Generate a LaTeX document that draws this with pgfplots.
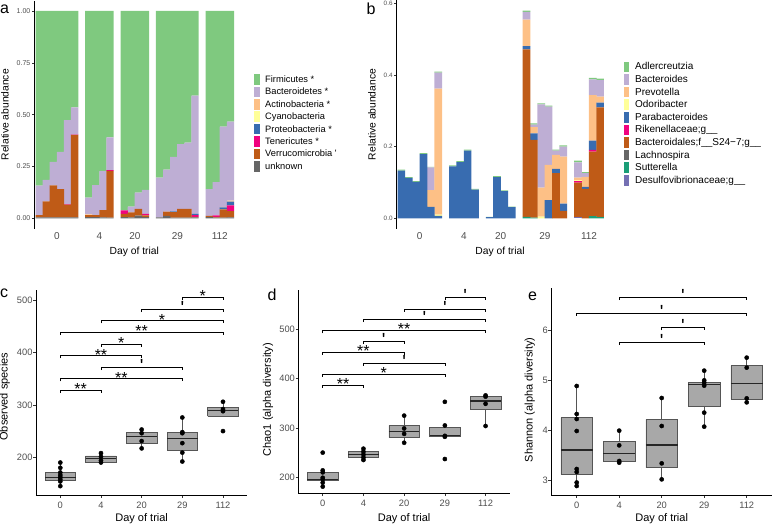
\documentclass[border=0pt]{standalone}
\usepackage{fontspec}
\setmainfont{Liberation Sans}
\usepackage{pgfplots}
\usepackage{pgfplotstable}
\pgfplotsset{compat=1.18}

\definecolor{cFir}{HTML}{7FC97F}
\definecolor{cBac}{HTML}{BEAED4}
\definecolor{cAct}{HTML}{FDC086}
\definecolor{cCya}{HTML}{FFFF99}
\definecolor{cPro}{HTML}{386CB0}
\definecolor{cTen}{HTML}{F0027F}
\definecolor{cVer}{HTML}{BF5B17}
\definecolor{cUnk}{HTML}{666666}
\definecolor{cSut}{HTML}{1B9E77}
\definecolor{cDes}{HTML}{7570B3}
\definecolor{txtgray}{HTML}{4D4D4D}
\definecolor{boxfill}{HTML}{A8A8A8}
\definecolor{boxline}{HTML}{555555}

\newcommand\fs[1]{\fontsize{#1}{#1}\selectfont}
\newcommand\brk[4]{\addplot[black, line width=0.5pt, mark=none] coordinates {(#1,#4) (#1,#3) (#2,#3) (#2,#4)};}
% asterisk labels and the "'" (p<0.1) labels
\newcommand\blab[3]{\node[font=\fs{16}, anchor=base, inner sep=0pt, yshift=-4.3pt] at (axis cs:#1,#2) {#3};}
\newcommand\qlab[2]{\node[font=\fs{19}, anchor=base, inner sep=0pt, yshift=-5.2pt] at (axis cs:#1,#2) {\textquotesingle};}
\newcommand\q{\textquotesingle}
% box: pos, left, right, lower whisker, lower quartile, median, upper quartile, upper whisker
\newcommand\bx[8]{%
\addplot[boxline, line width=0.5pt, mark=none] coordinates {(#1,#4) (#1,#5)};
\addplot[boxline, line width=0.5pt, mark=none] coordinates {(#1,#7) (#1,#8)};
\addplot[fill=boxfill, draw=boxline, line width=0.5pt, mark=none] coordinates {(#2,#5) (#3,#5) (#3,#7) (#2,#7) (#2,#5)};
\addplot[black!85, line width=1.1pt, mark=none] coordinates {(#2,#6) (#3,#6)};}

\pgfplotsset{
  base/.style={scale only axis, anchor=south west, axis lines*=left,
    axis line style={-, line width=0.5pt, draw=black},
    tick align=outside, tick style={line width=0.5pt, draw=black!80},
    /pgf/number format/assume math mode=true, clip=false,
    tick label style={text=txtgray, inner sep=0pt}},
  lk/.style={legend image code/.code={\fill[##1] (0pt,-2.3pt) rectangle (5.3pt,8.4pt);}},
  pts/.style={only marks, mark=*, mark size=2.1pt, black},
}

% panel a: phylum relative abundance (increments, stacked from bottom)
\pgfplotstableread{
x unk ver ten pro cya act bac fir
1 .005 .011 0 0 0 0 .142 .842
2 .005 .077 0 0 0 0 .103 .815
3 .005 .154 0 0 0 0 .113 .728
4 .005 .136 0 0 0 0 .179 .680
5 .005 .061 .003 0 0 0 .404 .527
6 .005 .397 .002 0 0 0 .131 .465
8 .006 .010 0 0 0 .003 .081 .900
9 .006 .010 0 0 0 0 .144 .840
10 .005 .034 0 0 0 0 .189 .772
11 .004 .225 .004 0 0 0 .157 .610
13 .006 .016 .016 0 0 0 0 .962
14 .005 .024 0 0 0 0 .027 .944
15 .013 .032 0 0 0 0 .079 .876
16 .006 .008 .008 0 0 0 .115 .863
18 .005 0 0 0 0 0 .191 .804
19 .012 .020 0 0 0 0 .203 .765
20 .004 .026 0 .003 0 0 .263 .704
21 .004 .041 0 0 0 0 .313 .642
22 .004 .042 0 0 0 0 .319 .635
23 .005 .002 .008 .006 0 0 .571 .408
25 .006 .006 0 0 0 0 .129 .859
26 .004 .003 .007 0 0 0 .160 .826
27 .004 .039 0 .010 0 .002 .387 .558
28 .005 .030 .028 .017 0 .005 .381 .534
}\tabA

% panel b: genus relative abundance (increments)
\pgfplotstableread{
x des sut lac s24 rik para odo prev bacs adl
1 0 0 0 0 0 .133 0 0 0 .003
2 0 0 0 0 0 .113 0 0 0 .002
3 0 0 0 0 0 .102 0 0 0 .002
4 0 0 0 0 0 .179 0 0 0 .003
5 0 0 0 0 0 .032 0 .047 .063 .002
6 0 0 0 0 0 .007 .003 .352 .045 .003
8 0 0 0 0 0 .145 0 0 0 .003
9 0 0 0 0 0 .157 0 0 0 .003
10 0 0 0 0 0 .189 0 0 0 .003
11 0 0 0 0 0 .080 0 0 0 .002
13 0 0 0 0 0 .003 0 0 0 .001
14 0 0 0 0 0 .115 0 0 0 .003
15 0 0 0 0 0 .076 0 0 0 .002
16 0 0 0 0 0 .031 0 0 0 .002
18 0 .004 0 .468 0 .009 0 .074 .022 .003
19 0 .002 0 .217 0 .018 0 .018 .007 .003
20 0 0 0 0 0 0 .005 .081 .232 .003
21 0 0 0 0 0 .051 0 .098 .163 .003
22 0 0 0 .126 0 .012 0 .039 .012 .003
23 0 0 0 .021 0 .020 0 .131 .028 .004
25 .004 0 0 .096 .004 0 .003 .007 .042 .005
26 0 0 0 .082 0 .006 0 .028 .010 .003
27 0 .006 0 .180 .005 .026 0 .127 .044 .004
28 0 .003 0 .307 0 .013 0 .017 .046 .004
}\tabB

\begin{document}
\begin{tikzpicture}[x=1pt,y=1pt]
\path[use as bounding box] (0,0) rectangle (773,-529);

% ---------------- panel a ----------------
\begin{axis}[base, at={(34pt,-228.7pt)}, width=200.7pt, height=228.1pt,
  xmin=0.26, xmax=28.6, ymin=-0.05, ymax=1.05,
  ybar stacked, bar width=1.04,
  x axis line style={draw=none}, xtick style={draw=none},
  xtick={3.5,9.5,14.5,20.5,26.5}, xticklabels={0,4,20,29,112},
  xticklabel style={font=\fs{10}, yshift=-1.5pt},
  ytick={0,0.25,0.5,0.75,1}, major tick length=2pt,
  yticklabel style={font=\fs{7}, xshift=-1.5pt, /pgf/number format/fixed, /pgf/number format/fixed zerofill, /pgf/number format/precision=2},
  xlabel={Day of trial}, xlabel style={at={(axis description cs:0.4996,-0.0802)}, anchor=north, inner sep=0pt, font=\fs{10.3}},
  ylabel={Relative abundance}, ylabel style={at={(axis description cs:-0.1246,0.5)}, rotate=0, anchor=south, inner sep=0pt, font=\fs{10.3}},
  reverse legend, legend cell align=left,
  legend style={at={(axis description cs:1.0962,0.6797)}, anchor=north west, draw=none, fill=none, inner sep=0pt, row sep=0pt, column sep=5.7pt, font=\fs{9.3}, nodes={inner sep=0pt, text height=8.7pt, text depth=3.7pt, anchor=base west}},
]
\addplot[fill=cUnk, draw=none, lk] table[x=x,y=unk] {\tabA}; \addlegendentry{unknown}
\addplot[fill=cVer, draw=none, lk] table[x=x,y=ver] {\tabA}; \addlegendentry{Verrucomicrobia \q}
\addplot[fill=cTen, draw=none, lk] table[x=x,y=ten] {\tabA}; \addlegendentry{Tenericutes *}
\addplot[fill=cPro, draw=none, lk] table[x=x,y=pro] {\tabA}; \addlegendentry{Proteobacteria *}
\addplot[fill=cCya, draw=none, lk] table[x=x,y=cya] {\tabA}; \addlegendentry{Cyanobacteria}
\addplot[fill=cAct, draw=none, lk] table[x=x,y=act] {\tabA}; \addlegendentry{Actinobacteria *}
\addplot[fill=cBac, draw=none, lk] table[x=x,y=bac] {\tabA}; \addlegendentry{Bacteroidetes *}
\addplot[fill=cFir, draw=none, lk] table[x=x,y=fir] {\tabA}; \addlegendentry{Firmicutes *}
\end{axis}

% ---------------- panel b ----------------
\begin{axis}[base, at={(396pt,-228.7pt)}, width=208.5pt, height=228.4pt,
  xmin=0.27, xmax=28.6, ymin=-0.029, ymax=0.609,
  ybar stacked, bar width=1.04,
  x axis line style={draw=none}, xtick style={draw=none},
  xtick={3.5,9.5,14.5,20.5,26.5}, xticklabels={0,4,20,29,112},
  xticklabel style={font=\fs{10}, yshift=-1.5pt},
  ytick={0,0.2,0.4,0.6}, major tick length=2pt,
  yticklabel style={font=\fs{6.3}, xshift=-1.3pt, /pgf/number format/fixed, /pgf/number format/fixed zerofill, /pgf/number format/precision=1},
  xlabel={Day of trial}, xlabel style={at={(axis description cs:0.4988,-0.0801)}, anchor=north, inner sep=0pt, font=\fs{10.3}},
  ylabel={Relative abundance}, ylabel style={at={(axis description cs:-0.0959,0.5)}, rotate=0, anchor=south, inner sep=0pt, font=\fs{10.3}},
  reverse legend, legend cell align=left,
  legend style={at={(axis description cs:1.0902,0.7345)}, anchor=north west, draw=none, fill=none, inner sep=0pt, row sep=0pt, column sep=6.3pt, font=\fs{10}, nodes={inner sep=0pt, text height=8.8pt, text depth=3.8pt, anchor=base west}},
]
\addplot[fill=cDes, draw=none, lk] table[x=x,y=des] {\tabB}; \addlegendentry{Desulfovibrionaceae;g\_\_}
\addplot[fill=cSut, draw=none, lk] table[x=x,y=sut] {\tabB}; \addlegendentry{Sutterella}
\addplot[fill=cUnk, draw=none, lk] table[x=x,y=lac] {\tabB}; \addlegendentry{Lachnospira}
\addplot[fill=cVer, draw=none, lk] table[x=x,y=s24] {\tabB}; \addlegendentry{Bacteroidales;f\_\_S24−7;g\_\_}
\addplot[fill=cTen, draw=none, lk] table[x=x,y=rik] {\tabB}; \addlegendentry{Rikenellaceae;g\_\_}
\addplot[fill=cPro, draw=none, lk] table[x=x,y=para] {\tabB}; \addlegendentry{Parabacteroides}
\addplot[fill=cCya, draw=none, lk] table[x=x,y=odo] {\tabB}; \addlegendentry{Odoribacter}
\addplot[fill=cAct, draw=none, lk] table[x=x,y=prev] {\tabB}; \addlegendentry{Prevotella}
\addplot[fill=cBac, draw=none, lk] table[x=x,y=bacs] {\tabB}; \addlegendentry{Bacteroides}
\addplot[fill=cFir, draw=none, lk] table[x=x,y=adl] {\tabB}; \addlegendentry{Adlercreutzia}
\end{axis}

% ---------------- panel c ----------------
\begin{axis}[base, at={(35.9pt,-495pt)}, width=211.5pt, height=205pt,
  xmin=-0.6, xmax=4.6, ymin=128.05, ymax=519.3,
  xtick={0,1,2,3,4}, xticklabels={0,4,20,29,112}, ytick={200,300,400,500},
  major tick length=2.75pt,
  tick label style={font=\fs{9.3}}, xticklabel style={yshift=-4pt}, yticklabel style={xshift=-0.5pt},
  xlabel={Day of trial}, xlabel style={at={(axis description cs:0.5,-0.0893)}, anchor=north, inner sep=0pt, font=\fs{11}},
  ylabel={Observed species}, ylabel style={at={(axis description cs:-0.1225,0.48)}, rotate=0, anchor=south, inner sep=0pt, font=\fs{11}},
]
\bx{0}{-0.375}{0.375}{145}{157}{162}{171}{190}
\bx{1}{0.625}{1.375}{190}{190}{197}{202.5}{208}
\bx{2}{1.625}{2.375}{217}{227}{239}{247}{253}
\bx{3}{2.625}{3.375}{192}{213}{236}{248}{276}
\bx{4}{3.625}{4.375}{278}{278}{289}{295}{306}
\addplot[pts] coordinates {(0,190) (0,180) (0,171) (0,166) (0,162) (0,158) (0,154) (0,145)
 (1,208) (1,201) (1,194) (1,190) (2,253) (2,246) (2,231) (2,217)
 (3,276) (3,248) (3,246) (3,227) (3,209) (3,192) (4,306) (4,292) (4,288) (4,250)};
\brk{3}{4}{505.2}{500}\blab{3.5}{505.2}{*}
\brk{2}{4}{482.3}{477.1}\qlab{3}{482.3}
\brk{1}{4}{460.7}{455.5}\blab{2.5}{460.7}{*}
\brk{0}{4}{438.4}{433.2}\blab{2}{438.4}{**}
\brk{1}{2}{416.1}{410.9}\blab{1.5}{416.1}{*}
\brk{0}{2}{393.9}{388.7}\blab{1}{393.9}{**}
\brk{1}{3}{371.6}{366.4}\qlab{2}{371.6}
\brk{0}{3}{350.0}{344.8}\blab{1.5}{350.0}{**}
\brk{0}{1}{327.8}{322.6}\blab{0.5}{327.8}{**}
\end{axis}

% ---------------- panel d ----------------
\begin{axis}[base, at={(298.3pt,-493.3pt)}, width=211.7pt, height=203.3pt,
  xmin=-0.6, xmax=4.6, ymin=167.5, ymax=579.7,
  xtick={0,1,2,3,4}, xticklabels={0,4,20,29,112}, ytick={200,300,400,500},
  major tick length=2.75pt,
  tick label style={font=\fs{9.3}}, xticklabel style={yshift=-4pt}, yticklabel style={xshift=-0.5pt},
  xlabel={Day of trial}, xlabel style={at={(axis description cs:0.5,-0.0984)}, anchor=north, inner sep=0pt, font=\fs{11}},
  ylabel={Chao1 (alpha diversity)}, ylabel style={at={(axis description cs:-0.118,0.46)}, rotate=0, anchor=south, inner sep=0pt, font=\fs{11}},
]
\bx{0}{-0.375}{0.375}{181}{193}{196}{210}{214}
\bx{1}{0.625}{1.375}{235}{240}{246}{252}{258}
\bx{2}{1.625}{2.375}{270}{281}{292.6}{305}{325}
\bx{3}{2.625}{3.375}{282}{282.4}{284.5}{300.7}{305}
\bx{4}{3.625}{4.375}{304}{338}{354.7}{364}{366}
\addplot[pts] coordinates {(0,250) (0,214) (0,210) (0,199) (0,196) (0,189) (0,181)
 (1,258) (1,252) (1,246) (1,240) (1,235) (2,325) (2,299) (2,288) (2,270)
 (3,353) (3,305) (3,284) (3,282) (3,237) (4,366) (4,363.5) (4,349) (4,304)};
\brk{3}{4}{564.9}{559.4}\qlab{3.5}{564.9}
\brk{2}{4}{541.2}{535.7}\qlab{3}{541.2}
\brk{1}{4}{520.3}{514.8}\qlab{2.5}{520.3}
\brk{0}{4}{497.3}{491.8}\blab{2}{497.3}{**}
\brk{1}{2}{475.7}{470.2}\qlab{1.5}{475.7}
\brk{0}{2}{454.1}{448.6}\blab{1}{454.1}{**}
\brk{1}{3}{431.8}{426.3}\qlab{2}{431.8}
\brk{0}{3}{409.5}{404.0}\blab{1.5}{409.5}{*}
\brk{0}{1}{387.2}{381.7}\blab{0.5}{387.2}{**}
\end{axis}

% ---------------- panel e ----------------
\begin{axis}[base, at={(551.2pt,-495pt)}, width=221pt, height=207pt,
  xmin=-0.6, xmax=4.6, ymin=2.7, ymax=6.84,
  xtick={0,1,2,3,4}, xticklabels={0,4,20,29,112}, ytick={3,4,5,6},
  major tick length=2.75pt,
  tick label style={font=\fs{9.3}}, xticklabel style={yshift=-4pt}, yticklabel style={xshift=-0.5pt},
  xlabel={Day of trial}, xlabel style={at={(axis description cs:0.5,-0.0884)}, anchor=north, inner sep=0pt, font=\fs{11}},
  ylabel={Shannon (alpha diversity)}, ylabel style={at={(axis description cs:-0.0733,0.46)}, rotate=0, anchor=south, inner sep=0pt, font=\fs{11}},
]
\bx{0}{-0.375}{0.375}{2.88}{3.113}{3.6}{4.247}{4.88}
\bx{1}{0.625}{1.375}{3.347}{3.367}{3.533}{3.767}{3.987}
\bx{2}{1.625}{2.375}{3.013}{3.247}{3.7}{4.213}{4.64}
\bx{3}{2.625}{3.375}{4.067}{4.473}{4.907}{4.947}{5.187}
\bx{4}{3.625}{4.375}{4.553}{4.62}{4.933}{5.287}{5.447}
\addplot[pts] coordinates {(0,4.88) (0,4.32) (0,4.22) (0,3.98) (0,3.22) (0,3.16) (0,2.95) (0,2.88)
 (1,3.987) (1,3.693) (1,3.38) (1,3.347) (2,4.64) (2,4.08) (2,3.333) (2,3.013)
 (3,5.187) (3,4.993) (3,4.947) (3,4.887) (3,4.347) (3,4.067) (4,5.447) (4,5.247) (4,4.633) (4,4.553)};
\brk{1}{4}{6.653}{6.599}\qlab{2.5}{6.653}
\brk{0}{4}{6.34}{6.286}\qlab{2}{6.34}
\brk{2}{3}{6.047}{5.993}\qlab{2.5}{6.047}
\brk{1}{3}{5.753}{5.699}\qlab{2}{5.753}
\end{axis}

% panel letters
\node[anchor=base west, inner sep=0pt, font=\fs{16}] at (0,-13.3) {a};
\node[anchor=base west, inner sep=0pt, font=\fs{16}] at (366.5,-15) {b};
\node[anchor=base west, inner sep=0pt, font=\fs{16}] at (0,-297) {c};
\node[anchor=base west, inner sep=0pt, font=\fs{16}] at (267.5,-300) {d};
\node[anchor=base west, inner sep=0pt, font=\fs{16}] at (528,-300) {e};
\end{tikzpicture}
\end{document}
